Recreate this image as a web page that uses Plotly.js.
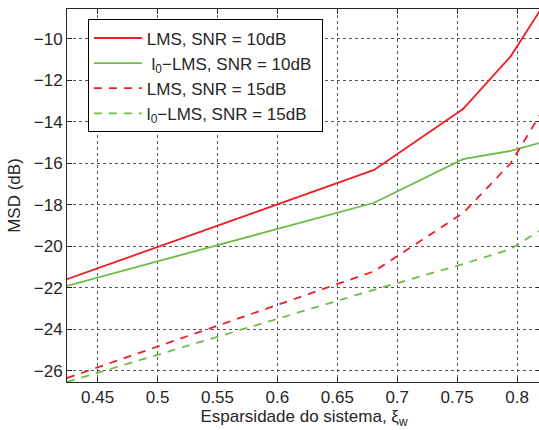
<!DOCTYPE html>
<html>
<head>
<meta charset="utf-8">
<script src="https://cdn.plot.ly/plotly-3.0.1.min.js"></script>
<style>
html,body{margin:0;padding:0;overflow:hidden;background:#fff;}
#chart{width:542px;height:430px;}
</style>
</head>
<body>
<div id="chart"></div>
<script>
// Sparsity values (x axis)
var sparsity = [0.4244, 0.6807, 0.7549, 0.7947, 0.82];
// MSD (dB) series
var lms10   = [-21.58, -16.32, -13.39, -10.85, -8.57];
var l0lms10 = [-21.90, -17.90, -15.80, -15.40, -15.00];
var lms15   = [-26.34, -21.20, -18.40, -16.00, -13.58];
var l0lms15 = [-26.53, -22.09, -20.85, -20.13, -19.20];
var seriesNames = ["LMS, SNR = 10dB\u00a0", "\u00a0l<sub>0</sub>\u2212LMS, SNR = 10dB\u00a0", "LMS, SNR = 15dB\u00a0", "l<sub>0</sub>\u2212LMS, SNR = 15dB\u00a0"];
var xTicks = [0.45, 0.5, 0.55, 0.6, 0.65, 0.7, 0.75, 0.8];
var xTickText = ["0.45", "0.5", "0.55", "0.6", "0.65", "0.7", "0.75", "0.8"];
var yTicks = [-26, -24, -22, -20, -18, -16, -14, -12, -10];

var RED = '#ee1f26', GREEN = '#6cbd45';
var FONT = 'Liberation Sans, Arial, Helvetica, sans-serif';
var FS = 17;

var traces = [
  {x: sparsity, y: lms10, name: seriesNames[0], legendgroup: 'a', mode: 'lines', line: {color: RED, width: 1.8}},
  {x: sparsity, y: l0lms10, name: seriesNames[1], legendgroup: 'b', mode: 'lines', line: {color: GREEN, width: 1.8}},
  {x: sparsity, y: lms15, name: seriesNames[2], legendgroup: 'c', mode: 'lines', line: {color: RED, width: 1.8, dash: '8px,7px'}},
  {x: sparsity, y: l0lms15, name: seriesNames[3], legendgroup: 'd', mode: 'lines', line: {color: GREEN, width: 1.8, dash: '8px,7px'}}
];

var axisCommon = {
  showline: true, linecolor: '#262626', linewidth: 1, mirror: 'ticks',
  ticks: 'inside', ticklen: 5, tickcolor: '#262626', tickwidth: 1,
  showgrid: true, gridcolor: '#555555', gridwidth: 1, griddash: 'dot',
  zeroline: false, tickfont: {family: FONT, size: FS, color: '#262626'}
};

var layout = {
  width: 542, height: 430,
  margin: {l: 67, r: 1, t: 9, b: 48, pad: 0},
  paper_bgcolor: '#ffffff', plot_bgcolor: '#ffffff',
  showlegend: true,
  font: {family: FONT, size: FS, color: '#262626'},
  xaxis: Object.assign({}, axisCommon, {
    range: [0.4244, 0.82], tickmode: 'array', tickvals: xTicks, ticktext: xTickText,
    title: {text: 'Esparsidade do sistema, \u03be<sub>w</sub>', font: {family: FONT, size: FS, color: '#262626'}, standoff: 3}
  }),
  yaxis: Object.assign({}, axisCommon, {
    range: [-26.53, -8.57], tickmode: 'array', tickvals: yTicks,
    title: {text: 'MSD (dB)', font: {family: FONT, size: FS, color: '#262626'}, standoff: 8}
  }),
  legend: {
    x: 0.044, y: 0.972, xanchor: 'left', yanchor: 'top',
    bgcolor: '#ffffff', bordercolor: '#000000', borderwidth: 1,
    font: {family: FONT, size: FS, color: '#262626'},
    itemwidth: 48, tracegroupgap: 3, traceorder: 'normal'
  }
};

Plotly.newPlot('chart', traces, layout, {displayModeBar: false, staticPlot: true});
</script>
</body>
</html>
